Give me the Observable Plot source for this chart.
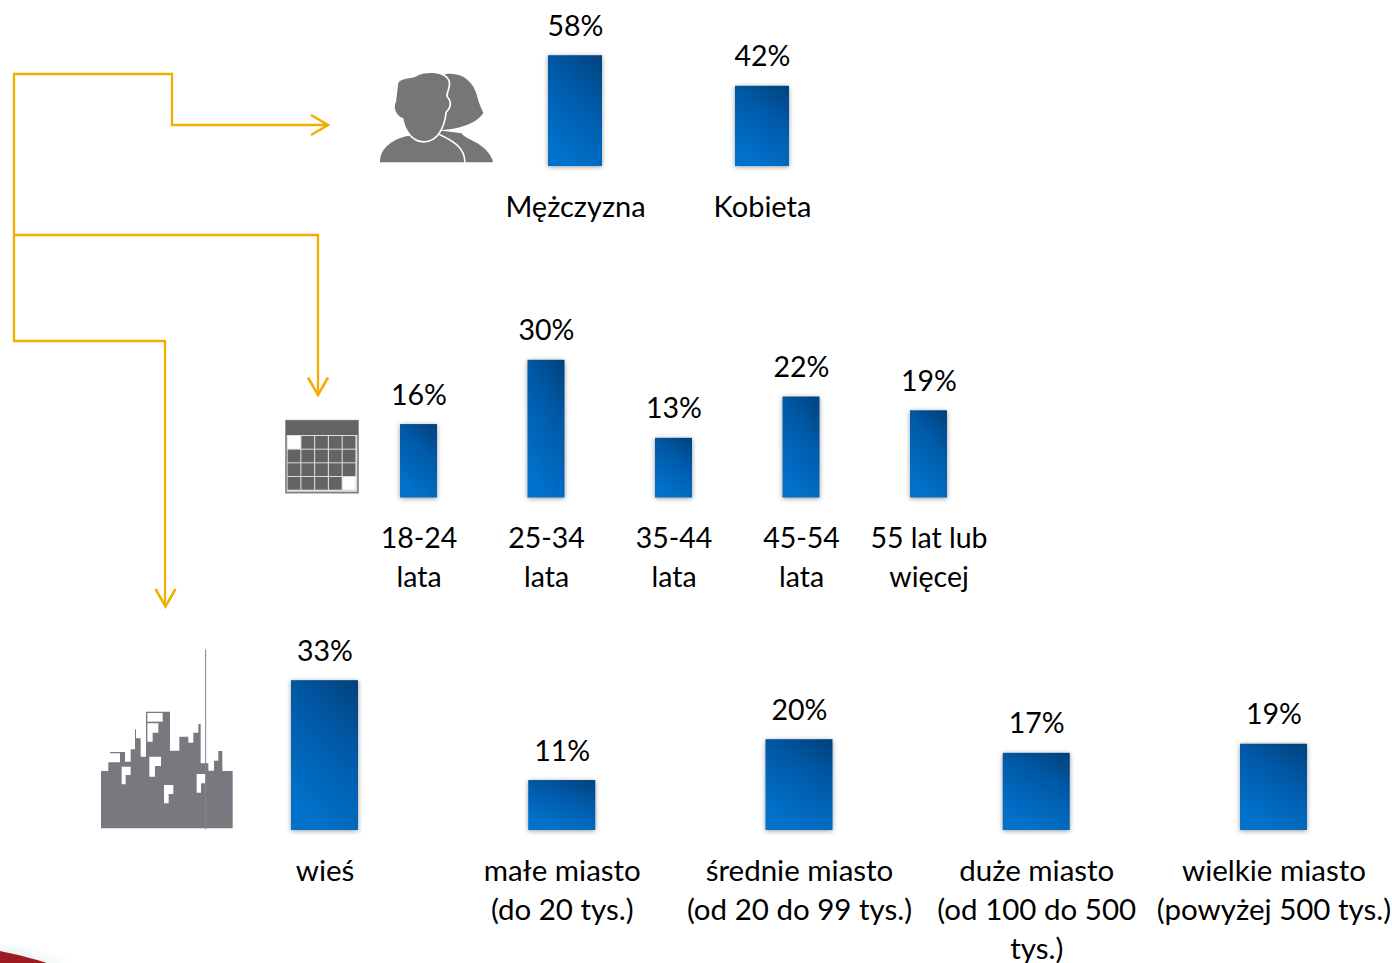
<!DOCTYPE html>
<html><head><meta charset="utf-8">
<script src="https://cdn.jsdelivr.net/npm/d3@7"></script>
<script src="https://cdn.jsdelivr.net/npm/@observablehq/plot@0.6"></script>
<style>
html,body{margin:0;padding:0;background:#fff;overflow:hidden}
#page{position:relative;width:1392px;height:963px;overflow:hidden}
#page svg{position:absolute;left:0;top:0;background:transparent}
</style></head><body><div id="page"></div>
<script>
const genderCategories = ["Mężczyzna","Kobieta"];
const genderValues = [58,42];
const ageCategories = ["18-24\nlata","25-34\nlata","35-44\nlata","45-54\nlata","55 lat lub\nwięcej"];
const ageValues = [16,30,13,22,19];
const placeCategories = ["wieś","małe miasto\n(do 20 tys.)","średnie miasto\n(od 20 do 99 tys.)","duże miasto\n(od 100 do 500\ntys.)","wielkie miasto\n(powyżej 500 tys.)"];
const placeValues = [33,11,20,17,19];

const W=1392,H=963;
const page=document.getElementById("page");
const ns="http://www.w3.org/2000/svg";

// decorations: connectors, pictograms, corner swoosh
const skyline="33,565 33,393 55,393 55,367 90,367 90,340 60,340 60,336 105,336 105,365 122,365 122,328 135,328 135,268 138,268 138,295 152,295 152,350 168,350 168,215 240,215 240,332 268,332 268,290 295,290 295,308 310,308 310,278 325,278 325,252 332,252 332,370 355,370 355,392 372,392 372,362 385,362 385,333 397,333 397,393 428,393 428,565";
const windows=["95,380 122,380 122,405 107,405 107,433 95,433","178,350 213,350 213,378 195,378 195,410 178,410","222,435 250,435 250,462 236,462 236,490 222,490","320,402 347,402 347,430 333,430 333,458 320,458","172,219 218,219 218,245 172,245","172,250 205,250 205,278 188,278 188,305 172,305"];
let cal="";
for(let r=0;r<4;r++)for(let c=0;c<5;c++){
  const white=(r==0&&c==0)||(r==3&&c==4);
  cal+=`<rect x="${53+c*41.3}" y="${108+r*41}" width="38" height="38" fill="${white?'#fff':'#646464'}"/>`;
}
const deco=document.createElementNS(ns,"svg");
deco.setAttribute("width",W);deco.setAttribute("height",H);
deco.innerHTML=`
<defs><filter id="blur"><feGaussianBlur stdDeviation="5"/></filter></defs>
<path d="M0,946 L70,964 L0,964Z" fill="#c8dcdc" opacity=".45" filter="url(#blur)"/>
<path d="M0,951 C15,954 35,959 50,964 L0,964Z" fill="#9c1a20"/>
<g fill="none" stroke="#f2ad00" stroke-width="2.3">
<path d="M14,235 L14,74 L172,74 L172,125 L327,125"/><path d="M311,115 L328,125 L311,135" stroke-width="2.6"/>
<path d="M14,235 L318,235 L318,394"/><path d="M308,377.5 L318,395 L328,377.5" stroke-width="2.6"/>
<path d="M14,235 L14,341 L165,341 L165,605"/><path d="M155.5,589 L165.5,606.5 L175.5,589" stroke-width="2.6"/>
</g>
<g transform="translate(370,40) scale(.3333)" fill="#767676">
<path d="M225,103 C270,95 310,120 322,170 C328,195 335,205 340,218 C325,245 280,265 215,270 L180,200Z"/>
<path d="M200,270 L275,280 C285,300 345,305 368,360 L368,367 L250,367Z"/>
<g stroke="#fff" stroke-width="10" paint-order="stroke">
<path d="M30,367 C28,330 60,300 112,288 L200,283 C250,305 282,325 282,367Z"/>
<path d="M85,128 C95,113 130,118 145,106 C175,93 225,98 235,123 C240,145 224,160 230,172 C243,185 240,205 226,215 C222,255 205,302 162,303 C125,303 105,265 100,235 C80,228 68,205 78,185Z"/>
</g>
</g>
<g transform="translate(270,400) scale(.3333)">
<rect x="48" y="62" width="216" height="216" fill="#dcdcdc" stroke="#808080" stroke-width="5"/>
<rect x="48" y="62" width="216" height="43" fill="#646464"/>${cal}
</g>
<g transform="translate(90,640) scale(.3333)">
<polygon points="${skyline}" fill="#78787e"/>
${windows.map(p=>`<polygon points="${p}" fill="#fff"/>`).join("")}
<path d="M347,28 V568" stroke="#85858a" stroke-width="3"/>
</g>`;
page.appendChild(deco);

// gradient shared by every bar
const gradient=()=>{
  const d=d3.create("svg:defs");
  const g=d.append("linearGradient").attr("id","barFill").attr("x1",.9).attr("y1",0).attr("x2",.45).attr("y2",1);
  g.append("stop").attr("offset",0).attr("stop-color","#01437f");
  g.append("stop").attr("offset",.4).attr("stop-color","#005aa8");
  g.append("stop").attr("offset",1).attr("stop-color","#0072cb");
  return d.node();
};

function panel({categories,values,centerFirst,centerLast,barWidth,baseline,pxPerUnit,maxValue,labelSize}){
  const n=categories.length;
  const step=(centerLast-centerFirst)/(n-1);
  const rows=categories.map((c,i)=>({c,v:values[i]}));
  const chart=Plot.plot({
    width:W,height:H,margin:0,
    style:{background:"transparent",fontFamily:"Lato, sans-serif",fontSize:"29px",color:"#000",overflow:"visible"},
    x:{type:"band",domain:categories,range:[centerFirst-barWidth/2,centerLast+barWidth/2],paddingInner:1-barWidth/step,paddingOuter:0,round:false,axis:null},
    y:{type:"linear",domain:[0,maxValue],range:[baseline,baseline-pxPerUnit*maxValue],axis:null},
    marks:[
      gradient,
      Plot.barY(rows,{x:"c",y:"v",fill:"url(#barFill)",imageFilter:"drop-shadow(0 1.5px 2.5px rgba(0,0,0,.4))"}),
      Plot.text(rows,{x:"c",y:"v",text:d=>d.v+"%",dy:-20,lineAnchor:"bottom",fontSize:28.5,fill:"#000"}),
      Plot.text(rows,{x:"c",y:()=>0,text:"c",dy:22.5,lineAnchor:"top",lineHeight:39/labelSize,fontSize:labelSize,fill:"#000"})
    ]
  });
  page.appendChild(chart);
}
panel({categories:genderCategories,values:genderValues,centerFirst:575,centerLast:762,barWidth:54,baseline:166,pxPerUnit:1.91,maxValue:60,labelSize:29});
panel({categories:ageCategories,values:ageValues,centerFirst:418.5,centerLast:928.5,barWidth:37,baseline:497.5,pxPerUnit:4.59,maxValue:32,labelSize:28.5});
panel({categories:placeCategories,values:placeValues,centerFirst:324.5,centerLast:1273.5,barWidth:67,baseline:830,pxPerUnit:4.54,maxValue:35,labelSize:29.5});
</script></body></html>
